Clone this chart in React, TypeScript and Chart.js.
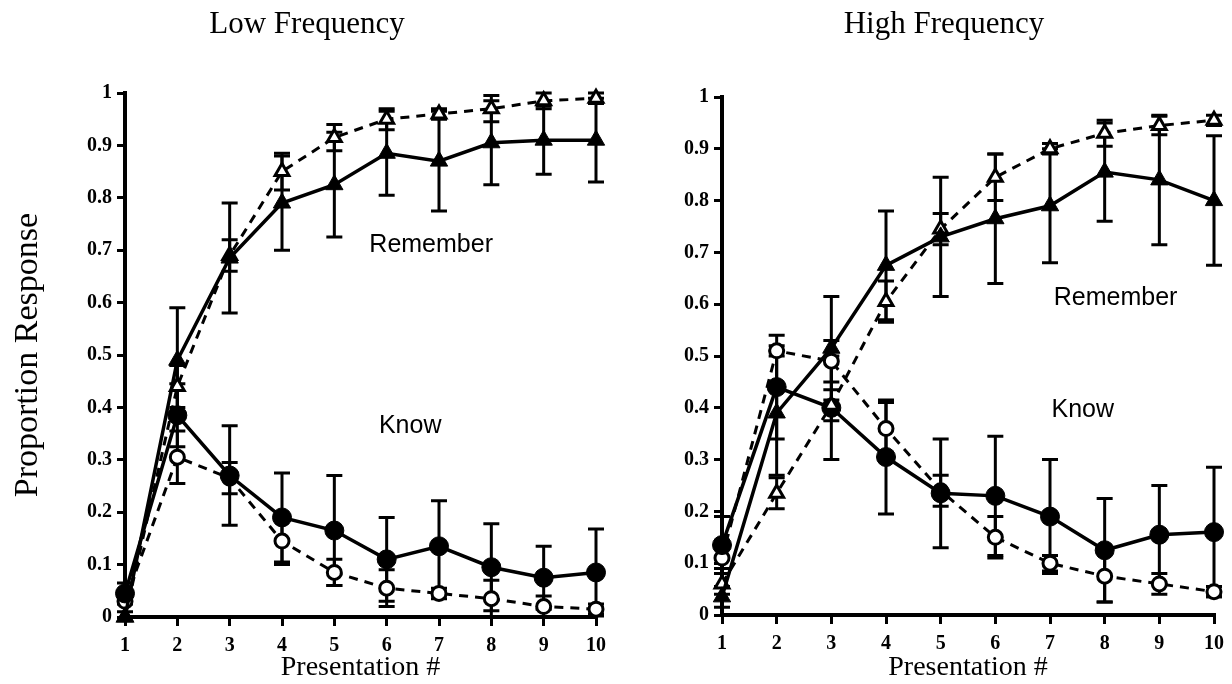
import React, { useEffect, useRef } from "react";
import { Chart, registerables } from "chart.js";

Chart.register(...registerables);

// ---------- data ----------
const presentations = [1, 2, 3, 4, 5, 6, 7, 8, 9, 10];
const yTickLabels = ["0", "0.1", "0.2", "0.3", "0.4", "0.5", "0.6", "0.7", "0.8", "0.9", "1"];

// Low frequency
const lowRememberFilled = [0.0, 0.49, 0.685, 0.79, 0.825, 0.885, 0.87, 0.905, 0.91, 0.91];
const lowRememberFilledErr = [0, 0.1, 0.105, 0.09, 0.1, 0.08, 0.095, 0.08, 0.065, 0.08];
const lowRememberOpen = [0.0, 0.44, 0.69, 0.85, 0.915, 0.95, 0.96, 0.97, 0.985, 0.99];
const lowRememberOpenErr = [0, 0.04, 0.03, 0.035, 0.025, 0.02, 0.01, 0.025, 0.015, 0.01];
const lowKnowFilled = [0.045, 0.385, 0.27, 0.19, 0.165, 0.11, 0.135, 0.095, 0.075, 0.085];
const lowKnowFilledErr = [0.02, 0.06, 0.095, 0.085, 0.105, 0.08, 0.087, 0.083, 0.06, 0.083];
const lowKnowOpen = [0.03, 0.305, 0.265, 0.145, 0.085, 0.055, 0.045, 0.035, 0.02, 0.015];
const lowKnowOpenErr = [0.02, 0.05, 0.03, 0.045, 0.025, 0.035, 0.01, 0.035, 0.02, 0.01];

// High frequency
const highRememberFilled = [0.035, 0.39, 0.515, 0.675, 0.73, 0.765, 0.79, 0.855, 0.84, 0.8];
const highRememberFilledErr = [0.02, 0.12, 0.1, 0.105, 0.115, 0.125, 0.11, 0.095, 0.125, 0.125];
const highRememberOpen = [0.06, 0.235, 0.405, 0.605, 0.745, 0.845, 0.9, 0.93, 0.945, 0.955];
const highRememberOpenErr = [0.02, 0.03, 0.03, 0.04, 0.03, 0.045, 0.01, 0.025, 0.018, 0.01];
const highKnowFilled = [0.135, 0.44, 0.4, 0.305, 0.235, 0.23, 0.19, 0.125, 0.155, 0.16];
const highKnowFilledErr = [0.055, 0.1, 0.1, 0.11, 0.105, 0.115, 0.11, 0.1, 0.095, 0.125];
const highKnowOpen = [0.11, 0.51, 0.49, 0.36, 0.24, 0.15, 0.1, 0.075, 0.06, 0.045];
const highKnowOpenErr = [0.02, 0.01, 0.04, 0.05, 0.03, 0.04, 0.015, 0.05, 0.02, 0.01];

// text labels placed in data coordinates
const lowLabels = [
  { text: "Remember", x: 6.85, y: 0.71 },
  { text: "Know", x: 6.45, y: 0.365 },
];
const highLabels = [
  { text: "Remember", x: 8.2, y: 0.612 },
  { text: "Know", x: 7.6, y: 0.395 },
];

// ---------- plugins ----------
const errorBarPlugin = {
  id: "errorBars",
  beforeDatasetsDraw(chart: any) {
    const { ctx } = chart;
    const yScale = chart.scales.y;
    ctx.save();
    ctx.strokeStyle = "#000";
    ctx.lineWidth = 3;
    ctx.setLineDash([]);
    chart.data.datasets.forEach((ds: any, i: number) => {
      if (!ds.errors) return;
      const meta = chart.getDatasetMeta(i);
      meta.data.forEach((pt: any, j: number) => {
        const e = ds.errors[j];
        if (!e) return;
        const v = ds.data[j].y;
        const top = yScale.getPixelForValue(Math.min(1, v + e));
        const bot = yScale.getPixelForValue(Math.max(0, v - e));
        const x = pt.x;
        const cap = 8;
        ctx.beginPath();
        ctx.moveTo(x, top);
        ctx.lineTo(x, bot);
        ctx.moveTo(x - cap, top);
        ctx.lineTo(x + cap, top);
        ctx.moveTo(x - cap, bot);
        ctx.lineTo(x + cap, bot);
        ctx.stroke();
      });
    });
    ctx.restore();
  },
};

const textLabelPlugin = {
  id: "textLabels",
  afterDatasetsDraw(chart: any, _args: any, opts: any) {
    const { ctx } = chart;
    const labels = opts.labels || [];
    ctx.save();
    ctx.fillStyle = "#000";
    ctx.font = "25px 'Liberation Sans', Arial, sans-serif";
    ctx.textAlign = "center";
    ctx.textBaseline = "middle";
    labels.forEach((l: any) => {
      const x = chart.scales.x.getPixelForValue(l.x);
      const y = chart.scales.y.getPixelForValue(l.y);
      ctx.fillText(l.text, x, y);
    });
    ctx.restore();
  },
};

// ---------- helpers ----------
const pts = (vals: number[]) => presentations.map((p, i) => ({ x: p, y: vals[i] }));

function makeDatasets(
  remFilled: number[], remFilledErr: number[],
  remOpen: number[], remOpenErr: number[],
  knowFilled: number[], knowFilledErr: number[],
  knowOpen: number[], knowOpenErr: number[]
) {
  const solid = {
    borderColor: "#000",
    borderWidth: 3.5,
    pointBackgroundColor: "#000",
    pointBorderColor: "#000",
    pointBorderWidth: 1,
    tension: 0,
    clip: false,
  };
  const dashed = {
    borderColor: "#000",
    borderWidth: 3,
    borderDash: [9, 7],
    pointBackgroundColor: "#fff",
    pointBorderColor: "#000",
    pointBorderWidth: 3,
    tension: 0,
    clip: false,
  };
  return [
    { ...solid, label: "Remember (filled)", data: pts(remFilled), errors: remFilledErr, pointStyle: "triangle", pointRadius: 10 },
    { ...dashed, label: "Remember (open)", data: pts(remOpen), errors: remOpenErr, pointStyle: "triangle", pointRadius: 8 },
    { ...solid, label: "Know (filled)", data: pts(knowFilled), errors: knowFilledErr, pointStyle: "circle", pointRadius: 9.5 },
    { ...dashed, label: "Know (open)", data: pts(knowOpen), errors: knowOpenErr, pointStyle: "circle", pointRadius: 7 },
  ];
}

const tickFont = { family: "'Liberation Serif', 'Times New Roman', serif", size: 20, weight: "bold" as const };
const titleFamily = "'Liberation Serif', 'Times New Roman', serif";

function makeOptions(
  title: string, yWidth: number, showYTitle: boolean, rightPad: number,
  plotTop: number, plotBottom: number, labels: any[]
) {
  const titleSize = 31;
  const titleLine = titleSize * 1.2;
  const titleTop = 6;
  return {
    animation: false,
    responsive: false,
    devicePixelRatio: 1,
    layout: { padding: 0 },
    plugins: {
      legend: { display: false },
      tooltip: { enabled: false },
      title: {
        display: true,
        text: title,
        color: "#000",
        font: { family: titleFamily, size: titleSize, weight: "normal" as const },
        padding: { top: titleTop, bottom: plotTop - titleTop - titleLine },
      },
      textLabels: { labels },
    },
    scales: {
      x: {
        type: "linear",
        min: 1,
        max: 10,
        ticks: {
          stepSize: 1,
          autoSkip: false,
          maxRotation: 0,
          color: "#000",
          font: tickFont,
          padding: 8,
          callback: (v: number) => String(v),
        },
        grid: { drawOnChartArea: false, drawTicks: true, tickLength: 9, color: "#000", lineWidth: 3 },
        border: { display: true, color: "#000", width: 4 },
        title: {
          display: true,
          text: "Presentation #",
          color: "#000",
          font: { family: titleFamily, size: 28 },
          padding: { top: 0, bottom: 0 },
        },
        afterFit: (s: any) => {
          s.height = 684 - plotBottom;
        },
      },
      y: {
        type: "linear",
        min: 0,
        max: 1,
        ticks: {
          stepSize: 0.1,
          autoSkip: false,
          color: "#000",
          font: tickFont,
          padding: 5,
          callback: (_v: number, i: number) => yTickLabels[i],
        },
        grid: { drawOnChartArea: false, drawTicks: true, tickLength: 8, color: "#000", lineWidth: 3 },
        border: { display: true, color: "#000", width: 4 },
        title: {
          display: showYTitle,
          text: "Proportion Response",
          color: "#000",
          font: { family: titleFamily, size: 34 },
          padding: { top: 8, bottom: 0 },
        },
        afterFit: (s: any) => {
          s.width = yWidth;
        },
      },
      // empty spacer on the right so the title is centred on the whole canvas
      spacer: {
        type: "linear",
        position: "right",
        display: true,
        grid: { display: false, drawTicks: false },
        border: { display: false },
        ticks: { display: false },
        afterFit: (s: any) => {
          s.width = rightPad;
        },
      },
    },
  };
}

function Panel(props: {
  left: number; width: number; title: string; yWidth: number; showYTitle: boolean; rightPad: number;
  plotTop: number; plotBottom: number; datasets: any[]; labels: any[];
}) {
  const ref = useRef<HTMLCanvasElement>(null);
  useEffect(() => {
    if (!ref.current) return;
    const chart = new Chart(ref.current, {
      type: "line",
      data: { datasets: props.datasets },
      options: makeOptions(
        props.title, props.yWidth, props.showYTitle, props.rightPad,
        props.plotTop, props.plotBottom, props.labels
      ) as any,
      plugins: [errorBarPlugin, textLabelPlugin],
    } as any);
    return () => chart.destroy();
  }, []);
  return (
    <canvas
      ref={ref}
      width={props.width}
      height={684}
      style={{ position: "absolute", left: props.left, top: 0, width: props.width, height: 684 }}
    />
  );
}

export default function App() {
  const lowDatasets = makeDatasets(
    lowRememberFilled, lowRememberFilledErr, lowRememberOpen, lowRememberOpenErr,
    lowKnowFilled, lowKnowFilledErr, lowKnowOpen, lowKnowOpenErr
  );
  const highDatasets = makeDatasets(
    highRememberFilled, highRememberFilledErr, highRememberOpen, highRememberOpenErr,
    highKnowFilled, highKnowFilledErr, highKnowOpen, highKnowOpenErr
  );
  return (
    <div style={{ position: "fixed", left: 0, top: 0, width: 1232, height: 684, background: "#fff" }}>
      <Panel left={0} width={614} title="Low Frequency" yWidth={125} showYTitle={true} rightPad={17}
        plotTop={93} plotBottom={617} datasets={lowDatasets} labels={lowLabels} />
      <Panel left={656} width={576} title="High Frequency" yWidth={66} showYTitle={false} rightPad={16}
        plotTop={97} plotBottom={615} datasets={highDatasets} labels={highLabels} />
    </div>
  );
}
